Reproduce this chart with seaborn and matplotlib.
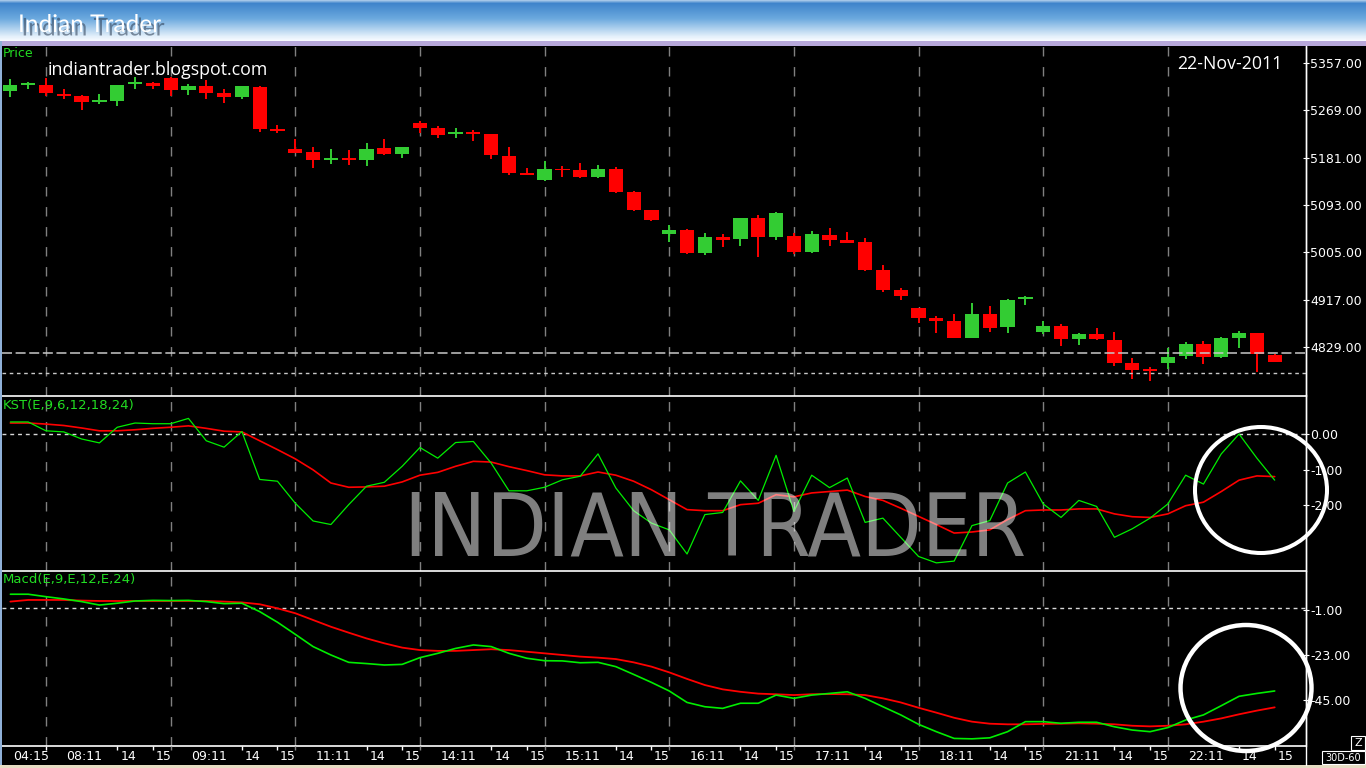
import numpy as np
import matplotlib
matplotlib.use("Agg")
import matplotlib.pyplot as plt
import seaborn as sns
from matplotlib.patches import Rectangle, Ellipse
import matplotlib.patheffects as pe
from matplotlib.colors import to_rgb

# ---------------- data ----------------
first_label = "04:15"
day_labels = ["08", "09", "11", "14", "15", "16", "17", "18", "21", "22"]
hour_labels = ["14", "15"]

opens = [5305, 5317, 5316, 5298, 5295, 5285, 5286, 5318, 5319, 5328, 5306, 5314, 5300, 5294, 5312, 5234,
         5197, 5191, 5177, 5181, 5177, 5199, 5188, 5245, 5236, 5224, 5228, 5225, 5184, 5151, 5140, 5160,
         5158, 5145, 5160, 5117, 5084, 5040, 5047, 5004, 5034, 5030, 5069, 5034, 5036, 5006, 5037, 5028,
         5024, 4973, 4935, 4902, 4883, 4878, 4846, 4891, 4867, 4919, 4857, 4869, 4845, 4854, 4843, 4800,
         4788, 4800, 4813, 4835, 4811, 4846, 4856, 4815]
highs = [5327, 5321, 5328, 5308, 5297, 5299, 5316, 5331, 5321, 5331, 5318, 5325, 5308, 5314, 5314, 5241,
         5215, 5201, 5196, 5195, 5208, 5216, 5201, 5248, 5240, 5236, 5232, 5225, 5201, 5162, 5175, 5165,
         5171, 5168, 5163, 5119, 5084, 5056, 5048, 5041, 5039, 5069, 5075, 5080, 5042, 5045, 5050, 5043,
         5032, 4982, 4939, 4902, 4887, 4891, 4911, 4906, 4919, 4924, 4878, 4872, 4856, 4865, 4857, 4809,
         4793, 4828, 4839, 4841, 4848, 4859, 4856, 4817]
lows = [5294, 5308, 5296, 5290, 5269, 5281, 5277, 5308, 5309, 5295, 5298, 5289, 5283, 5289, 5229, 5227,
        5189, 5162, 5170, 5167, 5165, 5186, 5180, 5227, 5218, 5218, 5212, 5178, 5149, 5149, 5138, 5145,
        5144, 5143, 5115, 5082, 5063, 5025, 5002, 5000, 5015, 5017, 4997, 5028, 5002, 5004, 5017, 5022,
        4971, 4932, 4917, 4874, 4856, 4846, 4846, 4857, 4856, 4908, 4854, 4832, 4833, 4843, 4794, 4770,
        4767, 4789, 4807, 4798, 4809, 4828, 4783, 4801]
closes = [5316, 5318, 5300, 5297, 5285, 5286, 5316, 5320, 5313, 5307, 5314, 5300, 5294, 5313, 5234, 5231,
          5190, 5177, 5179, 5176, 5197, 5188, 5200, 5236, 5223, 5228, 5225, 5185, 5153, 5150, 5160, 5158,
          5145, 5160, 5118, 5084, 5066, 5047, 5004, 5034, 5029, 5069, 5034, 5078, 5006, 5039, 5028, 5023,
          4973, 4935, 4924, 4883, 4878, 4846, 4891, 4865, 4917, 4922, 4869, 4845, 4854, 4845, 4800, 4787,
          4786, 4811, 4835, 4811, 4846, 4856, 4817, 4802]

kst = [0.34, 0.34, 0.09, 0.06, -0.14, -0.25, 0.19, 0.31, 0.29, 0.29, 0.44, -0.19, -0.37, 0.07, -1.28, -1.33,
       -1.95, -2.45, -2.55, -1.99, -1.47, -1.36, -0.91, -0.38, -0.68, -0.24, -0.21, -0.82, -1.60, -1.60, -1.50, -1.29,
       -1.19, -0.56, -1.52, -2.16, -2.51, -2.70, -3.38, -2.27, -2.21, -1.32, -1.87, -0.60, -2.18, -1.16, -1.51, -1.24,
       -2.49, -2.37, -2.91, -3.45, -3.63, -3.58, -2.58, -2.44, -1.38, -1.07, -1.97, -2.35, -1.87, -2.04, -2.91, -2.67,
       -2.37, -1.97, -1.16, -1.41, -0.56, 0.00, -0.68, -1.30]
kst_signal = [0.31, 0.31, 0.28, 0.24, 0.17, 0.09, 0.09, 0.12, 0.16, 0.19, 0.23, 0.16, 0.08, 0.06, -0.19, -0.44,
              -0.70, -1.01, -1.38, -1.50, -1.49, -1.47, -1.35, -1.16, -1.08, -0.91, -0.77, -0.79, -0.92, -1.03, -1.15, -1.18,
              -1.18, -1.07, -1.16, -1.33, -1.57, -1.85, -2.13, -2.16, -2.16, -1.99, -1.95, -1.71, -1.77, -1.66, -1.62, -1.58,
              -1.76, -1.87, -2.09, -2.32, -2.55, -2.79, -2.76, -2.70, -2.41, -2.16, -2.14, -2.14, -2.11, -2.11, -2.25, -2.33,
              -2.35, -2.25, -2.02, -1.92, -1.62, -1.30, -1.18, -1.20]
macd = [6.7, 6.7, 5.5, 4.4, 3.1, 1.4, 2.3, 3.4, 3.7, 3.6, 3.7, 3.1, 2.1, 2.3, -1.8, -7.0,
        -12.9, -18.9, -23.0, -26.6, -27.2, -27.9, -27.6, -24.3, -22.2, -19.8, -18.1, -18.9, -22.2, -24.6, -25.8, -25.9,
        -26.8, -26.6, -28.7, -32.5, -36.4, -40.6, -46.2, -48.3, -49.1, -46.6, -46.6, -42.6, -44.2, -42.6, -41.8, -41.0,
        -44.2, -48.3, -52.3, -56.9, -60.5, -63.8, -64.0, -63.5, -60.5, -55.6, -55.6, -56.4, -55.9, -55.9, -58.1, -59.7,
        -60.5, -58.5, -54.8, -52.3, -47.8, -43.2, -41.8, -40.6]
macd_signal = [3.1, 3.9, 3.9, 3.9, 3.6, 3.4, 3.4, 3.4, 3.4, 3.4, 3.4, 3.4, 3.1, 2.7, 1.8, -0.2,
               -2.6, -5.9, -9.2, -12.1, -14.9, -17.3, -19.4, -20.6, -21.0, -21.0, -20.6, -20.2, -20.6, -21.4, -22.2, -23.0,
               -23.8, -24.3, -25.0, -26.6, -28.7, -31.5, -34.7, -37.7, -39.8, -41.0, -41.9, -42.2, -42.6, -42.2, -42.1, -42.2,
               -42.6, -44.2, -46.2, -48.8, -51.2, -53.7, -55.6, -56.6, -56.9, -56.9, -56.7, -56.6, -56.4, -56.6, -56.9, -57.6,
               -57.9, -57.6, -56.9, -55.6, -54.0, -52.0, -50.2, -48.6]

price_ticks = [5357, 5269, 5181, 5093, 5005, 4917, 4829]
kst_ticks = [0, -1, -2]
macd_ticks = [-1, -23, -45]
price_line_dashed = 4819
price_line_dotted = 4782

# ---------------- style ----------------
sns.set_theme(style="dark", rc={"axes.facecolor": "black", "figure.facecolor": "black"})
plt.rcParams["font.family"] = ["DejaVu Sans"]
plt.rcParams["lines.scale_dashes"] = False

W, H = 1366, 768
fig = plt.figure(figsize=(W / 100, H / 100), dpi=100)
fig.patch.set_facecolor("black")


def px_axes(x0, y0, x1, y1, **kw):
    return fig.add_axes([x0 / W, 1 - y1 / H, (x1 - x0) / W, (y1 - y0) / H], **kw)


n = len(closes)
idx = np.arange(n)
XL = (-0.47, 72.73)
day_starts = [2 + 7 * k for k in range(len(day_labels))]

ax_p = px_axes(2, 46, 1305.5, 395.5)
ax_k = px_axes(2, 395.5, 1305.5, 570.5)
ax_m = px_axes(2, 570.5, 1305.5, 746)

for a in (ax_p, ax_k, ax_m):
    a.set_facecolor("black")
    a.set_xlim(*XL)
    a.grid(False)
    for s in a.spines.values():
        s.set_visible(False)
    a.spines["right"].set_visible(True)
    a.spines["right"].set_color("white")
    a.spines["right"].set_linewidth(1.0)
    a.yaxis.tick_right()
    a.tick_params(axis="y", colors="white", direction="inout", length=5, width=0.8,
                  pad=1, labelsize=9, left=False, right=True)
    a.tick_params(axis="x", bottom=False, labelbottom=False)
    for s in day_starts:
        a.axvline(s, color="#808080", lw=1.0, dashes=(6.8, 7.6), zorder=1)

for a in (ax_k, ax_m):
    a.spines["top"].set_visible(True)
    a.spines["top"].set_color("white")
    a.spines["top"].set_linewidth(1.2)
ax_m.spines["bottom"].set_visible(True)
ax_m.spines["bottom"].set_color("white")
ax_m.spines["bottom"].set_linewidth(1.2)

# ---- price candles ----
o = np.array(opens, float)
c = np.array(closes, float)
up = c >= o
cols = np.where(up, "#33cc33", "#ff0000")
body = np.abs(c - o)
mid = (o + c) / 2
hgt = np.maximum(body, 3.2)
bot = mid - hgt / 2
ax_p.vlines(idx, lows, highs, colors=cols, lw=1.4, zorder=2)
ax_p.bar(idx, hgt, bottom=bot, width=0.8, color=cols, lw=0, zorder=3)
ax_p.axhline(price_line_dashed, color="#c8c8c8", lw=1.1, dashes=(7.2, 2.6), zorder=4)
ax_p.axhline(price_line_dotted, color="#c8c8c8", lw=1.0, dashes=(2.6, 2.6), zorder=4)
ax_p.set_ylim(4739.6, 5388.0)
ax_p.set_yticks(price_ticks)
ax_p.set_yticklabels([f"{v:.2f}" for v in price_ticks])

# ---- KST ----
ax_k.axhline(0, color="#d8d8d8", lw=1.0, dashes=(2.8, 2.8), zorder=1)
sns.lineplot(x=idx, y=kst_signal, ax=ax_k, color="#ff0000", lw=1.2, legend=False, zorder=3)
sns.lineplot(x=idx, y=kst, ax=ax_k, color="#00ee00", lw=0.9, legend=False, zorder=4)
ax_k.set_ylim(-3.845, 1.085)
ax_k.set_yticks(kst_ticks)
ax_k.set_yticklabels([f"{v:.2f}" for v in kst_ticks])

# ---- MACD ----
ax_m.axhline(0, color="#d8d8d8", lw=1.0, dashes=(2.8, 2.8), zorder=1)
sns.lineplot(x=idx, y=macd_signal, ax=ax_m, color="#ff0000", lw=1.3, legend=False, zorder=3)
sns.lineplot(x=idx, y=macd, ax=ax_m, color="#00ee00", lw=1.2, legend=False, zorder=4)
ax_m.set_ylim(-67.5, 18.3)
ax_m.set_yticks(macd_ticks)
ax_m.set_yticklabels([f"{v:.2f}" for v in macd_ticks])

for a in (ax_p, ax_k, ax_m):
    a.set_xlabel("")
    a.set_ylabel("")

# ---- x label strip ----
ax_x = px_axes(2, 746, 1305.5, 764)
ax_x.set_facecolor("black")
ax_x.set_xlim(*XL)
ax_x.set_ylim(0, 1)
ax_x.axis("off")
ax_x.text(0.17, 0.39, first_label, color="white", fontsize=9, ha="left", va="center")
ax_x.vlines([2], 0.78, 1.0, color="white", lw=1)
for s, d in zip(day_starts, day_labels):
    ax_x.text(s + 1.15, 0.39, f"{d}:11", color="white", fontsize=9, ha="left", va="center")
    ax_x.text(s + 4.17, 0.39, hour_labels[0], color="white", fontsize=9, ha="left", va="center")
    ax_x.text(s + 6.15, 0.39, hour_labels[1], color="white", fontsize=9, ha="left", va="center")
    ax_x.vlines([s + 4, s + 6], 0.78, 1.0, color="white", lw=1)
    if s != 2:
        ax_x.vlines([s], 0.78, 1.0, color="#808080", lw=1)

# ---- title bar ----
ax_t = px_axes(0, 0, W, 41)
stops = [(0.0, "#a4c6e8"), (0.07, "#3f84cb"), (0.45, "#6ba9de"), (0.9, "#e4f0fb"), (1.0, "#f7fbff")]
ys = np.linspace(0, 1, 41)
grad = np.zeros((41, 1, 3))
for ch in range(3):
    grad[:, 0, ch] = np.interp(ys, [p for p, _ in stops], [to_rgb(col)[ch] for _, col in stops])
ax_t.imshow(grad, aspect="auto", extent=[0, 1, 1, 0])
ax_t.axis("off")

# ---- overlay ----
ax_o = fig.add_axes([0, 0, 1, 1], zorder=20)
ax_o.set_xlim(0, W)
ax_o.set_ylim(H, 0)
ax_o.axis("off")
ax_o.patch.set_alpha(0)

ax_o.add_patch(Rectangle((0, 41), W, 5, color="#b7a8da", lw=0))
ax_o.add_patch(Rectangle((0, 41), 2, H - 41, color="#8fb0d8", lw=0))
ax_o.add_patch(Rectangle((0, 765), W, 3, color="#e6dcc3", lw=0))
ax_o.plot([1305.5, 1305.5], [46, 765], color="white", lw=1.0)

ax_o.text(18, 32, "Indian Trader", color="white", fontsize=17.6, family=["Lato", "DejaVu Sans"],
          ha="left", va="baseline",
          path_effects=[pe.withSimplePatchShadow(offset=(2.5, -2.5), shadow_rgbFace="#2a3a50", alpha=0.55)])
ax_o.text(3, 57, "Price", color="#22dd22", fontsize=9, ha="left", va="baseline")
ax_o.text(48, 75, "indiantrader.blogspot.com", color="white", fontsize=12.8,
          family=["Open Sans", "DejaVu Sans"], ha="left", va="baseline")
ax_o.text(1177, 69, "22-Nov-2011", color="white", fontsize=12.8,
          family=["Open Sans", "DejaVu Sans"], ha="left", va="baseline")
ax_o.text(3, 409, "KST(E,9,6,12,18,24)", color="#22dd22", fontsize=9.5, ha="left", va="baseline")
ax_o.text(3, 583, "Macd(E,9,E,12,E,24)", color="#22dd22", fontsize=9.5, ha="left", va="baseline")

ax_o.text(715, 556, "INDIAN TRADER", color="white", alpha=0.5, fontsize=63,
          family=["DejaVu Sans"], fontstretch="condensed", ha="center", va="baseline")

ax_o.add_patch(Ellipse((1261, 490), 132, 126, fill=False, ec="white", lw=2.9))
ax_o.add_patch(Ellipse((1246, 688), 131, 126, fill=False, ec="white", lw=3.2))

ax_o.add_patch(Rectangle((1351, 736), 14, 14, fill=False, ec="white", lw=0.8))
ax_o.text(1358, 743.5, "Z", color="white", fontsize=8, ha="center", va="center")
ax_o.add_patch(Rectangle((1322, 751), 43, 13, fill=False, ec="white", lw=0.8))
ax_o.text(1343.5, 757.8, "30D-60", color="white", fontsize=7, ha="center", va="center")

fig.savefig("out.png", dpi=100, facecolor="black")
